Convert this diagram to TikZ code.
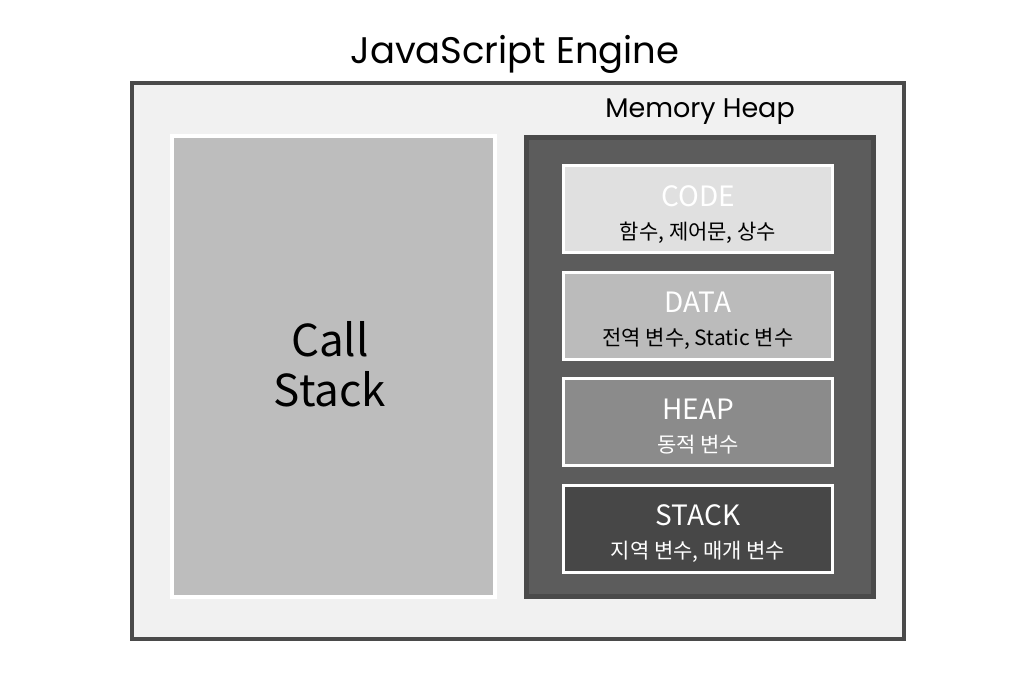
\documentclass[tikz,border=0pt]{standalone}
\usepackage{fontspec}
\setmainfont{Poppins}
\newfontfamily\kofont{Noto Sans CJK KR}
\definecolor{framegray}{RGB}{74,74,74}
\definecolor{palegray}{RGB}{241,241,241}
\definecolor{stackgray}{RGB}{189,189,189}
\definecolor{heapgray}{RGB}{92,92,92}
\definecolor{codegray}{RGB}{224,224,224}
\definecolor{datagray}{RGB}{187,187,187}
\definecolor{dyngray}{RGB}{139,139,139}
\definecolor{localgray}{RGB}{71,71,71}
\tikzset{
 membox/.style={draw=white,line width=3pt,minimum width=269pt,minimum height=87pt,inner sep=0pt},
 boxtitle/.style={anchor=base,font=\kofont\fontsize{28}{32}\selectfont},
 boxsub/.style={anchor=base,font=\kofont\fontsize{21}{24}\selectfont}
}

\begin{document}
\begin{tikzpicture}[x=1pt,y=-1pt]
\useasboundingbox (0,0) rectangle (1035,673);
% engine frame
\node[anchor=base,font=\fontsize{37}{42}\selectfont] (engine) at (515,63) {JavaScript Engine};
\draw[line width=4pt,draw=framegray,fill=palegray] (132,83) rectangle (904,639);
% call stack
\node[draw=white,line width=4pt,fill=stackgray,minimum width=323pt,minimum height=461pt,inner sep=0pt] (callstack) at (333.5,366.5) {};
\node[align=center,font=\kofont\fontsize{44}{50}\selectfont] (callstack-label) at (330,364) {Call\\Stack};
% memory heap
\node[anchor=base,font=\fontsize{27}{32}\selectfont] (memheap-label) at (700,117) {Memory Heap};
\node[draw=framegray,line width=5pt,fill=heapgray,minimum width=347pt,minimum height=459pt,inner sep=0pt] (memheap) at (700,367) {};
\foreach \n/\top/\fc/\tc/\sc/\sub in {code/164/codegray/white/black/{함수, 제어문, 상수},
 data/270.5/datagray/white/black/{전역 변수, Static 변수},
 heap/377/dyngray/white/white/{동적 변수},
 stack/483.5/localgray/white/white/{지역 변수, 매개 변수}}{
 \node[membox,fill=\fc] (\n) at (698,\top+45) {};
 \node[boxtitle,text=\tc] (\n-title) at (698,\top+42) {\MakeUppercase{\n}};
 \node[boxsub,text=\sc] (\n-sub) at (698,\top+75) {\sub};
}
\end{tikzpicture}
\end{document}
